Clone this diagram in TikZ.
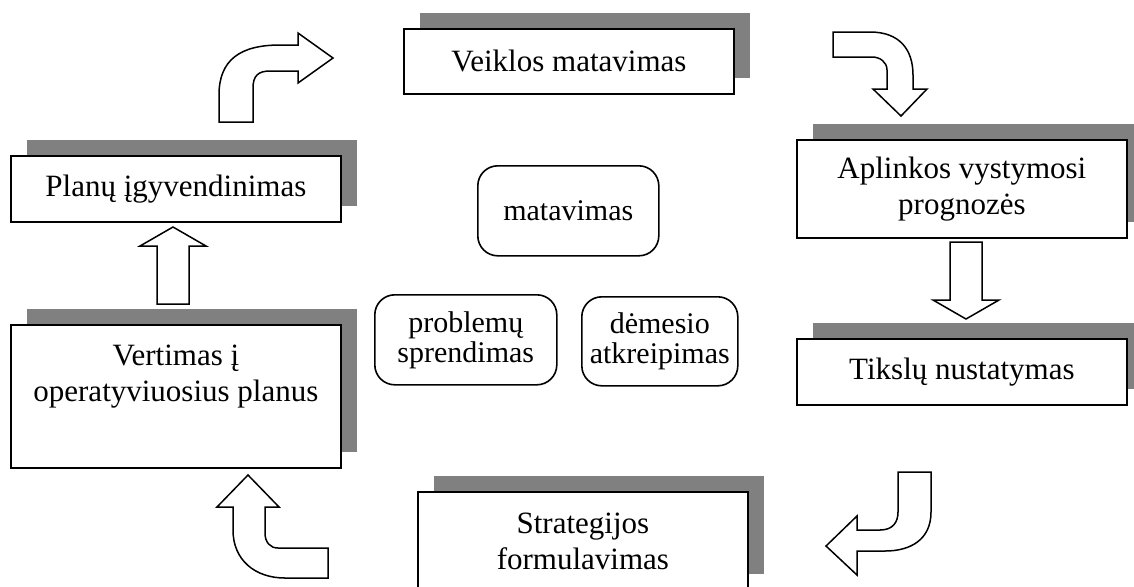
\documentclass[tikz,border=0pt]{standalone}
\usepackage{fontspec}
\setmainfont{Liberation Serif}
\usetikzlibrary{shadows}

\tikzset{
  stepbox/.style={draw=black, fill=white, line width=0.9pt, align=center, anchor=north west,
    minimum width=165pt, general shadow={fill=black!50, shadow xshift=8pt, shadow yshift=8pt}},
  roundbox/.style={draw=black, fill=white, line width=0.8pt, rounded corners=10pt, align=center,
    anchor=north west, font=\fontsize{15}{15}\selectfont},
  bigarrow/.style={draw=black, fill=white, line width=0.75pt, line join=miter}
}

\begin{document}
\begin{tikzpicture}[x=0.5pt, y=-0.5pt, font=\fontsize{15.5}{18}\selectfont]
\useasboundingbox (0,0) rectangle (1134,586);

% cycle boxes
\node[stepbox, minimum height=32.5pt] (veikla) at (403,28) {Veiklos matavimas};
\node[stepbox, minimum height=49pt] (aplinka) at (796,139) {Aplinkos vystymosi\\prognozės};
\node[stepbox, minimum height=33pt] (tikslai) at (796,338) {Tikslų nustatymas};
\node[stepbox, minimum height=49pt] (strategija) at (417,491) {Strategijos\\formulavimas};
\node[stepbox, minimum height=33pt] (planai) at (10,155) {Planų įgyvendinimas};
\node[stepbox, minimum height=71.5pt] (vertimas) at (10,324) {Vertimas į\\operatyviuosius planus\\\strut};

% middle
\node[roundbox, minimum width=90.5pt, minimum height=45pt] (matavimas) at (477,165) {matavimas};
\node[roundbox, minimum width=91pt, minimum height=45pt] (problemos) at (374,294) {problemų\\sprendimas};
\node[roundbox, minimum width=78pt, minimum height=44.5pt] (demesys) at (581,296) {dėmesio\\atkreipimas};

% straight arrows
\foreach \x/\y/\d in {173/304/-1, 966/242/1}{
\draw[bigarrow] ({\x-16},\y) -- ({\x-16},{\y+\d*58}) -- ({\x-33},{\y+\d*58}) -- (\x,{\y+\d*77})
  -- ({\x+33},{\y+\d*58}) -- ({\x+16},{\y+\d*58}) -- ({\x+16},\y) -- cycle;}

% bent arrows
\draw[bigarrow] (219,122) -- (219,95) .. controls (219,60) and (240,45) .. (280,45) -- (298,45)
  -- (298,33) -- (333,58) -- (298,83) -- (298,71) -- (270,71) .. controls (258,71) and (253,76) .. (253,88)
  -- (253,122) -- cycle;
\draw[bigarrow] (833,32) -- (870,32) .. controls (900,32) and (913,50) .. (913,75) -- (913,89)
  -- (927,89) -- (901,116) -- (873,89) -- (887,89) -- (887,70) .. controls (887,62) and (880,57) .. (872,57)
  -- (833,57) -- cycle;
\draw[bigarrow] (898,472) -- (931,472) -- (931,512) .. controls (931,540) and (910,551) .. (885,551)
  -- (857,551) -- (857,575) -- (826,546) -- (857,516) -- (857,530) -- (880,530) .. controls (893,530) and (898,522) .. (898,512)
  -- cycle;
\draw[bigarrow] (328,548) -- (328,578) -- (285,578) .. controls (255,578) and (233,560) .. (233,530)
  -- (233,507) -- (217,507) -- (248,475) -- (279,507) -- (265,507) -- (265,533) .. controls (265,542) and (270,548) .. (278,548)
  -- cycle;
\end{tikzpicture}
\end{document}
